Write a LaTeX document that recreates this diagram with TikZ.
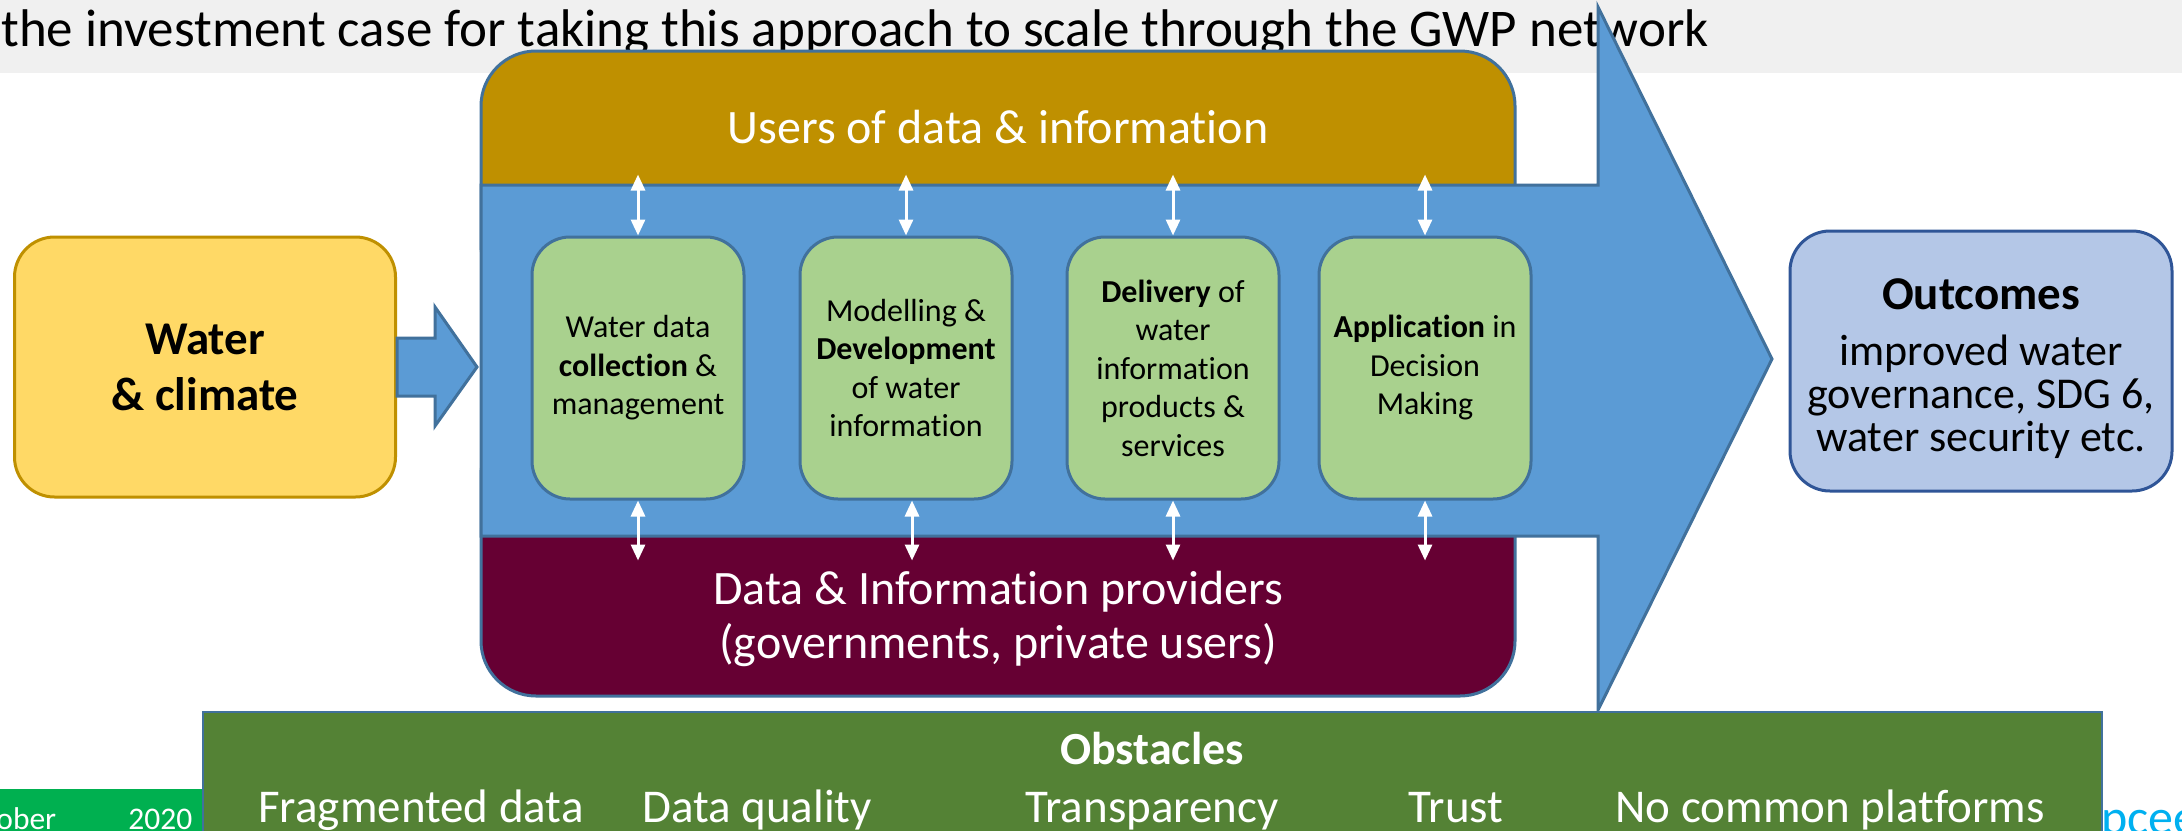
\documentclass[tikz,border=0pt]{standalone}
\usepackage{fontspec}
\setmainfont{Carlito}[Ligatures=NoCommon]
\usetikzlibrary{arrows.meta,calc}

\definecolor{barGray}{HTML}{F0F0F0}
\definecolor{flowBlue}{HTML}{5B9BD5}
\definecolor{flowLine}{HTML}{41719C}
\definecolor{userGold}{HTML}{BF9000}
\definecolor{provMaroon}{HTML}{660033}
\definecolor{stageGreen}{HTML}{A9D18E}
\definecolor{waterYellow}{HTML}{FFD966}
\definecolor{outFill}{HTML}{B4C7E7}
\definecolor{outLine}{HTML}{2F5597}
\definecolor{obstGreen}{HTML}{548235}
\definecolor{footGreen}{HTML}{00B050}
\definecolor{linkCyan}{HTML}{00B0F0}

\begin{document}
\begin{tikzpicture}[x=0.5pt,y=-0.5pt,
  stagebox/.style={draw=flowLine, fill=stageGreen, line width=1.5pt,
    rounded corners=19pt, minimum width=106pt, minimum height=131pt,
    inner sep=0pt, align=center, text=black,
    font=\fontsize{16}{19.25}\selectfont},
  link/.style={draw=white, line width=1.5pt,
    {Triangle[width=7pt,length=8pt]}-{Triangle[width=7pt,length=8pt]}},
  blockarrow/.style={fill=flowBlue, draw=flowLine, line width=1.5pt, line join=miter},
  whitelabel/.style={text=white, inner sep=0pt, align=center},
  obstitem/.style={text=white, inner sep=0pt, anchor=base,
    font=\fontsize{23.5}{28}\selectfont},
]
\useasboundingbox (0,0) rectangle (2182,830);
\clip (0,0) rectangle (2182,830);
\fill[white] (0,0) rectangle (2182,830);

% heading strip
\fill[barGray] (0,0) rectangle (2182,73);
\node[anchor=base west, inner sep=0pt, font=\fontsize{26.5}{32}\selectfont] (title) at (1,46)
  {the investment case for taking this approach to scale through the GWP network};

% users band (top) and providers band (bottom); their inner corners sit under the arrow body
\draw[fill=userGold, draw=flowLine, line width=1.5pt, rounded corners=27.5pt]
  (481,51) rectangle (1515,300);
\draw[fill=provMaroon, draw=flowLine, line width=1.5pt, rounded corners=27.5pt]
  (481,420) rectangle (1515,696);

% main process arrow
\draw[blockarrow] (481,185) -- (1598,185) -- (1598,7) -- (1772,359)
  -- (1598,710) -- (1598,536) -- (481,536) -- cycle;

\node[whitelabel, anchor=base, font=\fontsize{24}{28}\selectfont] (users) at (998,143)
  {Users of data \& information};
\node[whitelabel, font=\fontsize{24}{27}\selectfont] (providers) at (998,619)
  {Data \& Information providers\\(governments, private users)};

% process stages
\node[stagebox] (s1) at (638,368) {Water data\\\textbf{collection} \&\\management};
\node[stagebox] (s2) at (906,368) {Modelling \&\\\textbf{Development}\\of water\\information};
\node[stagebox] (s3) at (1173,368) {\textbf{Delivery} of\\water\\information\\products \&\\services};
\node[stagebox] (s4) at (1425,368) {\textbf{Application} in\\Decision\\Making};

% exchanges with users and providers
\foreach \s in {s1,s2,s3,s4}{
  \draw[link] (\s.north) ++(0,-61) -- (\s.north);
}
\draw[link] (s1.south) -- ++(0,60);
\draw[link] ([xshift=3pt]s2.south) -- ++(0,60);
\draw[link] (s3.south) -- ++(0,60);
\draw[link] (s4.south) -- ++(0,60);

% input
\node[draw=userGold, fill=waterYellow, line width=1.5pt, rounded corners=20pt,
  minimum width=190.5pt, minimum height=130pt, inner sep=0pt, align=center,
  font=\fontsize{23.5}{28}\selectfont\bfseries] (water) at (205,367)
  {Water\\\& climate};
\draw[blockarrow] (water.east |- 0,338) -- (435,338) -- (435,307) -- (477,367)
  -- (435,426) -- (435,396) -- (water.east |- 0,396) -- cycle;

% result
\node[draw=outLine, fill=outFill, line width=1.5pt, rounded corners=20pt,
  minimum width=191pt, minimum height=130pt, inner sep=0pt] (outcome) at (1981,361) {};
\node[inner sep=0pt, anchor=base, font=\fontsize{23.5}{28}\selectfont\bfseries] (outhead)
  at (1981,309) {Outcomes};
\node[inner sep=0pt, anchor=base, align=center, font=\fontsize{22}{21.5}\selectfont] (outtext)
  at (1981,451) {improved water\\governance, SDG 6,\\water security etc.};

% footer strip
\fill[footGreen] (0,789) rectangle (205,840);
\node[text=white, anchor=base west, inner sep=0pt, font=\fontsize{15.75}{19}\selectfont]
  (month) at (-4,829) {ober};
\node[text=white, anchor=base west, inner sep=0pt, font=\fontsize{15.75}{19}\selectfont]
  (year) at (128,829) {2020};

% obstacles panel
\draw[fill=obstGreen, draw=flowLine, line width=1pt] (203,712) rectangle (2102,900);
\node[text=white, inner sep=0pt, anchor=base, font=\fontsize{23}{28}\selectfont\bfseries]
  (obst) at (1152,764) {Obstacles};
\node[obstitem] (o1) at (421,822) {Fragmented data};
\node[obstitem] (o2) at (757,822) {Data quality};
\node[obstitem] (o3) at (1152,822) {Transparency};
\node[obstitem] (o4) at (1456,822) {Trust};
\node[obstitem] (o5) at (1830,822) {No common platforms};

\node[text=linkCyan, anchor=base west, inner sep=0pt, font=\fontsize{25}{30}\selectfont]
  (web) at (2101,834) {pcee};
\end{tikzpicture}
\end{document}
